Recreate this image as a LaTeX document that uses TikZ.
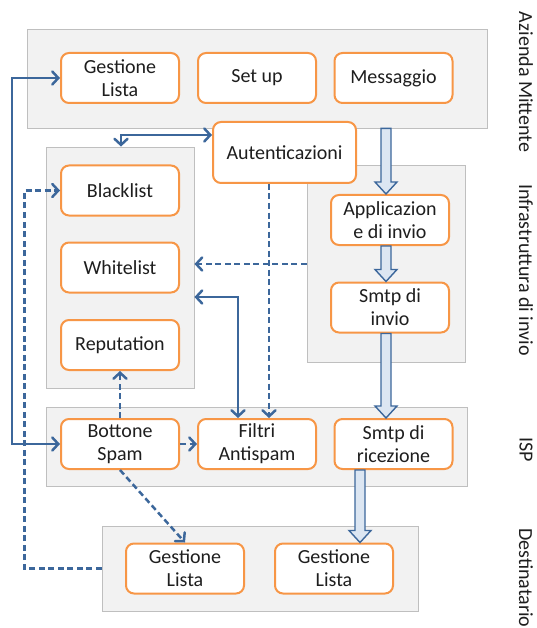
\documentclass[tikz,border=0pt]{standalone}
\usepackage{fontspec}
\setmainfont{Carlito}
\usetikzlibrary{arrows.meta,calc}
\definecolor{orng}{HTML}{F79646}
\definecolor{gbox}{HTML}{F2F2F2}
\definecolor{gline}{HTML}{BFBFBF}
\definecolor{lblue}{HTML}{3C679B}
\definecolor{bfill}{HTML}{DCE6F2}
\definecolor{txt}{HTML}{1E1E1E}
\newcommand{\blkarr}[2]{%
  \draw[blk] let \p1=(#1), \p2=(#2) in
    (\x1-5pt,\y1) -- (\x1-5pt,\y2+12pt) -- (\x1-11pt,\y2+12pt) -- (\x1,\y2)
    -- (\x1+11pt,\y2+12pt) -- (\x1+5pt,\y2+12pt) -- (\x1+5pt,\y1) -- cycle;}
\begin{document}
\begin{tikzpicture}[x=1pt,y=-1pt,
  box/.style={draw=orng, line width=2pt, fill=white, rounded corners=8pt,
    minimum width=118pt, minimum height=50pt, align=center, inner sep=0pt,
    text=txt, font=\fontsize{20}{23}\selectfont},
  grp/.style={draw=gline, fill=gbox, line width=0.9pt, inner sep=0pt},
  side/.style={rotate=-90, text=txt, inner sep=1pt, font=\fontsize{20}{23}\selectfont},
  conn/.style={draw=lblue, line width=2.5pt},
  arr/.style={-{Straight Barb[length=6pt,width=13pt,line cap=round]}},
  darr/.style={{Straight Barb[length=6pt,width=13pt,line cap=round]}-{Straight Barb[length=6pt,width=13pt,line cap=round]}},
  dsh/.style={dash pattern=on 6pt off 3.5pt},
  blk/.style={draw=lblue, fill=bfill, line width=1.4pt, line join=miter},
]
\path[use as bounding box] (0,0) rectangle (537,628);

% group boxes
\node[grp, minimum width=460pt, minimum height=99pt] (gA) at (257,78.5) {};
\node[grp, minimum width=148pt, minimum height=241pt] (gL) at (120,267.5) {};
\node[grp, minimum width=158pt, minimum height=197pt] (gI) at (386,263.5) {};
\node[grp, minimum width=421pt, minimum height=79pt] (gS) at (256.5,446.5) {};
\node[grp, minimum width=316pt, minimum height=85pt] (gD) at (260,568.5) {};

% nodes
\node[box] (gl1) at (120,78) {Gestione\\Lista};
\node[box] (su) at (257,78) {Set up};
\node[box] (ms) at (393.5,78) {Messaggio};
\node[box, minimum width=143pt, minimum height=61pt] (au) at (284.5,152.5) {Autenticazioni};
\node[box] (bl) at (120,190.5) {Blacklist};
\node[box] (wl) at (120,267.5) {Whitelist};
\node[box] (rp) at (120,345) {Reputation};
\node[box] (ap) at (390,220) {Applicazion\\e di invio};
\node[box] (si) at (390,307.5) {Smtp di\\invio};
\node[box] (bs) at (120,444) {Bottone\\Spam};
\node[box] (fa) at (257,444) {Filtri\\Antispam};
\node[box] (sr) at (393.5,444) {Smtp di\\ricezione};
\node[box] (d1) at (185,568.5) {Gestione\\Lista};
\node[box] (d2) at (334,568.5) {Gestione\\Lista};

% side labels
\node[side] (lA) at (526,82) {Azienda Mittente};
\node[side] (lI) at (526,270) {Infrastruttura di invio};
\node[side] (lS) at (526,450) {ISP};
\node[side] (lD) at (526,578) {Destinatario};

% helper coordinates
\coordinate (colI) at (386,0);
\coordinate (colR) at (360,0);
\coordinate (kA) at (121,135);
\coordinate (kB) at (269,0);
\coordinate (kC) at (0,264);
\coordinate (kD) at (0,297);
\coordinate (kE) at (238,0);

% block arrows
\blkarr{gA.south -| colI}{ap.north -| colI}
\blkarr{ap.south -| colI}{si.north -| colI}
\blkarr{si.south -| colI}{sr.north -| colI}
\blkarr{sr.south -| colR}{d2.north -| colR}

% connectors
\draw[conn, darr] (bs.west) -- ++(-48,0) |- (gl1.west);
\draw[conn, dsh, arr] (gD.west) -- ++(-77,0) |- (bl.west);
\draw[conn, darr] (kA |- gL.north) -- (kA) -- (kA -| au.west);
\draw[conn, dsh, arr] (au.south -| kB) -- (kB |- fa.north);
\draw[conn, dsh, arr] (gI.west |- kC) -- (gL.east |- kC);
\draw[conn, darr] (gL.east |- kD) -| (kE |- fa.north);
\draw[conn, dsh, arr] (bs.north) -- (rp.south);
\draw[conn, dsh, arr] (bs.east) -- (fa.west);
\draw[conn, dsh, arr] (bs.south) -- (d1.north);
\end{tikzpicture}
\end{document}
